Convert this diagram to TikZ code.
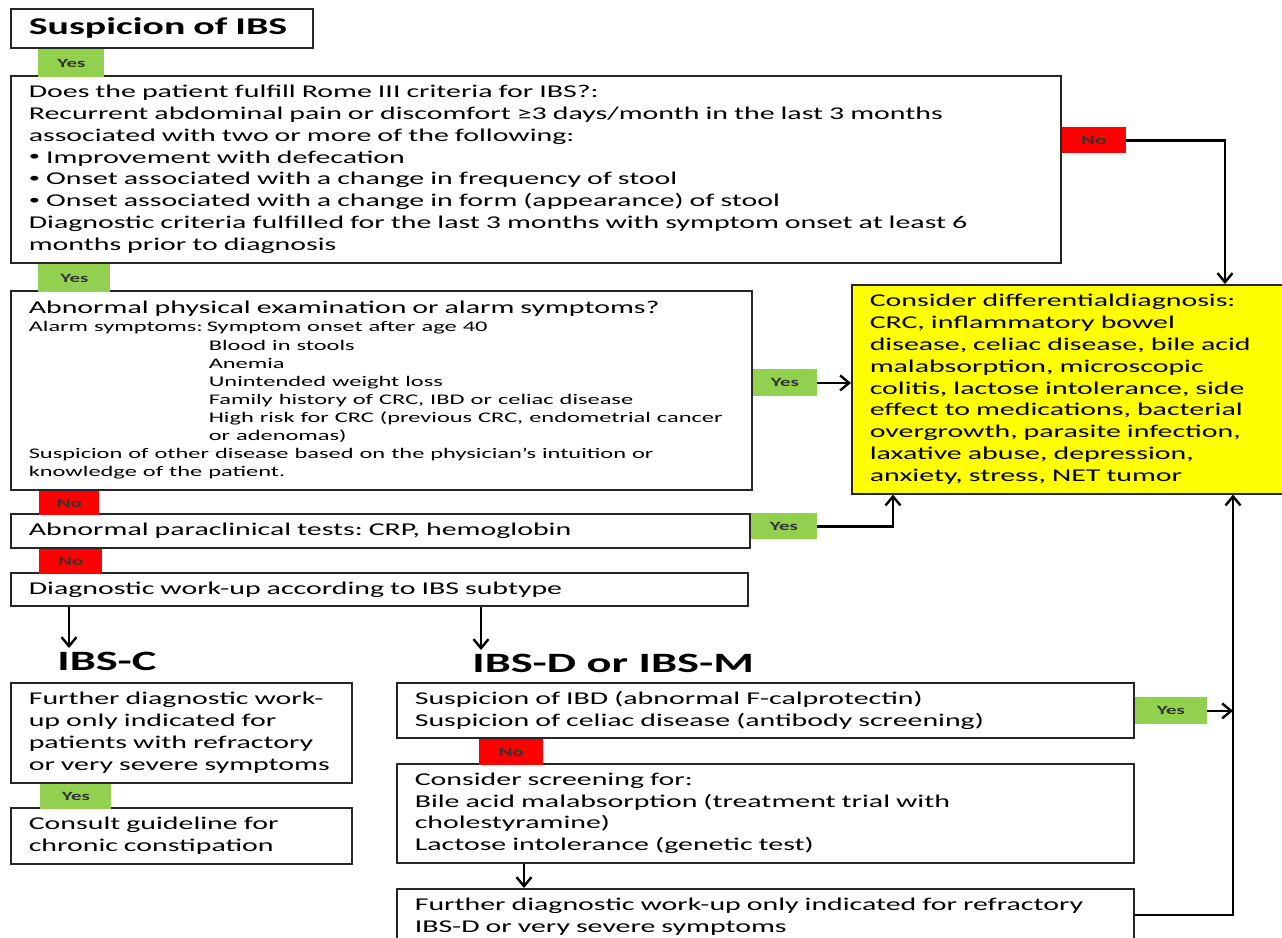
\documentclass[tikz,border=0pt]{standalone}
\usepackage{fontspec}
\setmainfont{Carlito}[FakeStretch=1.66]
\usetikzlibrary{
  arrows.meta,
  positioning,
  calc
}
\definecolor{ibsgreen}{HTML}{92D050}
\definecolor{ibsred}{HTML}{FF0000}
\definecolor{ibsyellow}{HTML}{FFFF00}
\definecolor{ibsline}{HTML}{262626}
\frenchspacing
\newcommand{\mainsize}{\fontsize{9pt}{10.9pt}\selectfont}
\newcommand{\alarmsize}{\fontsize{7.35pt}{9.05pt}\selectfont}
\newcommand{\alarmtab}{\hspace*{90pt}}
\newcommand{\romebullet}{\raisebox{1.1pt}{\fontsize{6.8pt}{6.8pt}\selectfont •}\ }

\begin{document}
\begin{tikzpicture}[
      x=0.5pt, y=-0.5pt,
      box/.style={
        rectangle, draw=ibsline, line width=0.8pt, fill=white,
        anchor=north west, align=left,
        inner xsep=9pt, inner ysep=3pt, font=\mainsize
      },
      head/.style={anchor=north west, inner sep=0pt,
        font=\fontsize{14pt}{16pt}\selectfont\bfseries},
      tagyes/.style={
        rectangle, fill=ibsgreen, inner sep=0pt, anchor=north west,
        font=\fontsize{6.3pt}{7pt}\selectfont\bfseries\color{black!80}
      },
      tagno/.style={tagyes, fill=ibsred},
      arrow/.style={-{Straight Barb[length=4.5pt, width=7.5pt]}, line width=1.2pt, black}
    ]
      \useasboundingbox (0,0) rectangle (1282,938);
      \fill[white] (0,0) rectangle (1282,938);
      \clip (0,0) rectangle (1282,938);

      % main column
      \node[box, font=\fontsize{12pt}{14pt}\selectfont\bfseries,
            minimum width=151pt, minimum height=19.5pt, text width=133pt]
            (title) at (10,8) {Suspicion of IBS};
      \node[box, minimum width=525pt, minimum height=93.5pt, text width=507pt] (rome) at (10,75) {
        Does the patient fulfill Rome III criteria for IBS?:\\
        Recurrent abdominal pain or discomfort ≥3 days/month in the last 3 months\\
        associated with two or more of the following:\\
        \romebullet Improvement with defecation\\
        \romebullet Onset associated with a change in frequency of stool\\
        \romebullet Onset associated with a change in form (appearance) of stool\\
        Diagnostic criteria fulfilled for the last 3 months with symptom onset at least 6\\
        months prior to diagnosis
      };
      \node[box, minimum width=370.5pt, minimum height=99.5pt, text width=352.5pt] (phys) at (10,290) {
        Abnormal physical examination or alarm symptoms?\par
        {\alarmsize \makebox[89pt][l]{Alarm symptoms:}Symptom onset after age 40\\
        \alarmtab Blood in stools\\
        \alarmtab Anemia\\
        \alarmtab Unintended weight loss\\
        \alarmtab Family history of CRC, IBD or celiac disease\\
        \alarmtab High risk for CRC (previous CRC, endometrial cancer\\
        \alarmtab or adenomas)\\
        Suspicion of other disease based on the physician’s intuition or\\
        knowledge of the patient.\par}
      };
      \node[box, minimum width=369.5pt, minimum height=17pt, text width=351.5pt] (para) at (10,513)
        {Abnormal paraclinical tests: CRP, hemoglobin};
      \node[box, minimum width=368.5pt, minimum height=16.5pt, text width=350.5pt] (work) at (10,572)
        {Diagnostic work-up according to IBS subtype};

      \node[box, fill=ibsyellow, minimum width=222.5pt, minimum height=104.5pt, text width=204.5pt] (diff) at (851,284) {
        Consider differentialdiagnosis:\\
        CRC, inflammatory bowel\\
        disease, celiac disease, bile acid\\
        malabsorption, microscopic\\
        colitis, lactose intolerance, side\\
        effect to medications, bacterial\\
        overgrowth, parasite infection,\\
        laxative abuse, depression,\\
        anxiety, stress, NET tumor
      };

      % subtypes
      \node[head] (hc) at (57,652) {IBS-C};
      \node[head] (hd) at (472,654) {IBS-D or IBS-M};

      \node[box, minimum width=170.5pt, minimum height=50pt, text width=152.5pt] (ibsc) at (10,682) {
        Further diagnostic work-\\
        up only indicated for\\
        patients with refractory\\
        or very severe symptoms
      };
      \node[box, minimum width=170.5pt, minimum height=28pt, text width=152.5pt] (consult) at (10,807) {
        Consult guideline for\\
        chronic constipation
      };
      \node[box, minimum width=368.5pt, minimum height=27.5pt, text width=350.5pt] (ibd) at (396,682) {
        Suspicion of IBD (abnormal F-calprotectin)\\
        Suspicion of celiac disease (antibody screening)
      };
      \node[box, minimum width=368.5pt, minimum height=49.5pt, text width=350.5pt] (screen) at (396,763) {
        Consider screening for:\\
        Bile acid malabsorption (treatment trial with\\
        cholestyramine)\\
        Lactose intolerance (genetic test)
      };
      \node[box, minimum width=368.5pt, minimum height=28pt, text width=350.5pt] (further) at (396,888) {
        Further diagnostic work-up only indicated for refractory\\
        IBS-D or very severe symptoms
      };

      % yes / no tags
      \node[tagyes, minimum width=33pt, minimum height=14pt, below right=0pt and 14pt of title.south west] (yes1) {Yes};
      \node[tagyes, minimum width=36pt, minimum height=14pt, below right=0pt and 14pt of rome.south west] (yes2) {Yes};
      \node[tagno, minimum width=32pt, minimum height=13pt] (no1) at ([yshift=-26pt]rome.north east) {No};
      \node[tagyes, minimum width=32pt, minimum height=13.5pt] (yes3) at ([yshift=-39.5pt]phys.north east) {Yes};
      \node[tagno, minimum width=30pt, minimum height=12pt, below right=0pt and 14.5pt of phys.south west] (no2) {No};
      \node[tagyes, minimum width=33pt, minimum height=13pt] (yes4) at (para.north east) {Yes};
      \node[tagno, minimum width=31.5pt, minimum height=12.5pt, below right=0pt and 14.5pt of para.south west] (no3) {No};
      \node[tagyes, minimum width=35.5pt, minimum height=12.5pt, below right=0pt and 15pt of ibsc.south west] (yes6) {Yes};
      \node[tagyes, minimum width=36pt, minimum height=13.5pt] (yes5) at ([yshift=-7.5pt]ibd.north east) {Yes};
      \node[tagno, minimum width=32pt, minimum height=13pt, below right=0pt and 41.5pt of ibd.south west] (no4) {No};

      % connectors
      \coordinate (railtop) at ([xshift=187pt]diff.north west);
      \coordinate (rail) at ([xshift=191pt]diff.south west);
      \coordinate (hcin) at ([xshift=6pt,yshift=2pt]hc.north west);
      \coordinate (hdin) at ([xshift=4.5pt,yshift=2pt]hd.north west);

      \draw[arrow] (no1.east) -| (railtop);
      \draw[arrow] (yes3.east) -- (yes3.east -| diff.west);
      \draw[arrow] (yes4.east) -| ([xshift=21pt]diff.south west);
      \draw[arrow] ([yshift=-13.5pt]further.north east) -| (rail);
      \draw[arrow] (yes5.east) -- (yes5.east -| rail);
      \draw[arrow] (hcin |- work.south) -- (hcin);
      \draw[arrow] (hdin |- work.south) -- (hdin);
      \draw[arrow] ([xshift=64pt]screen.south west) -- ([xshift=64pt]further.north west);
\end{tikzpicture}
\end{document}
